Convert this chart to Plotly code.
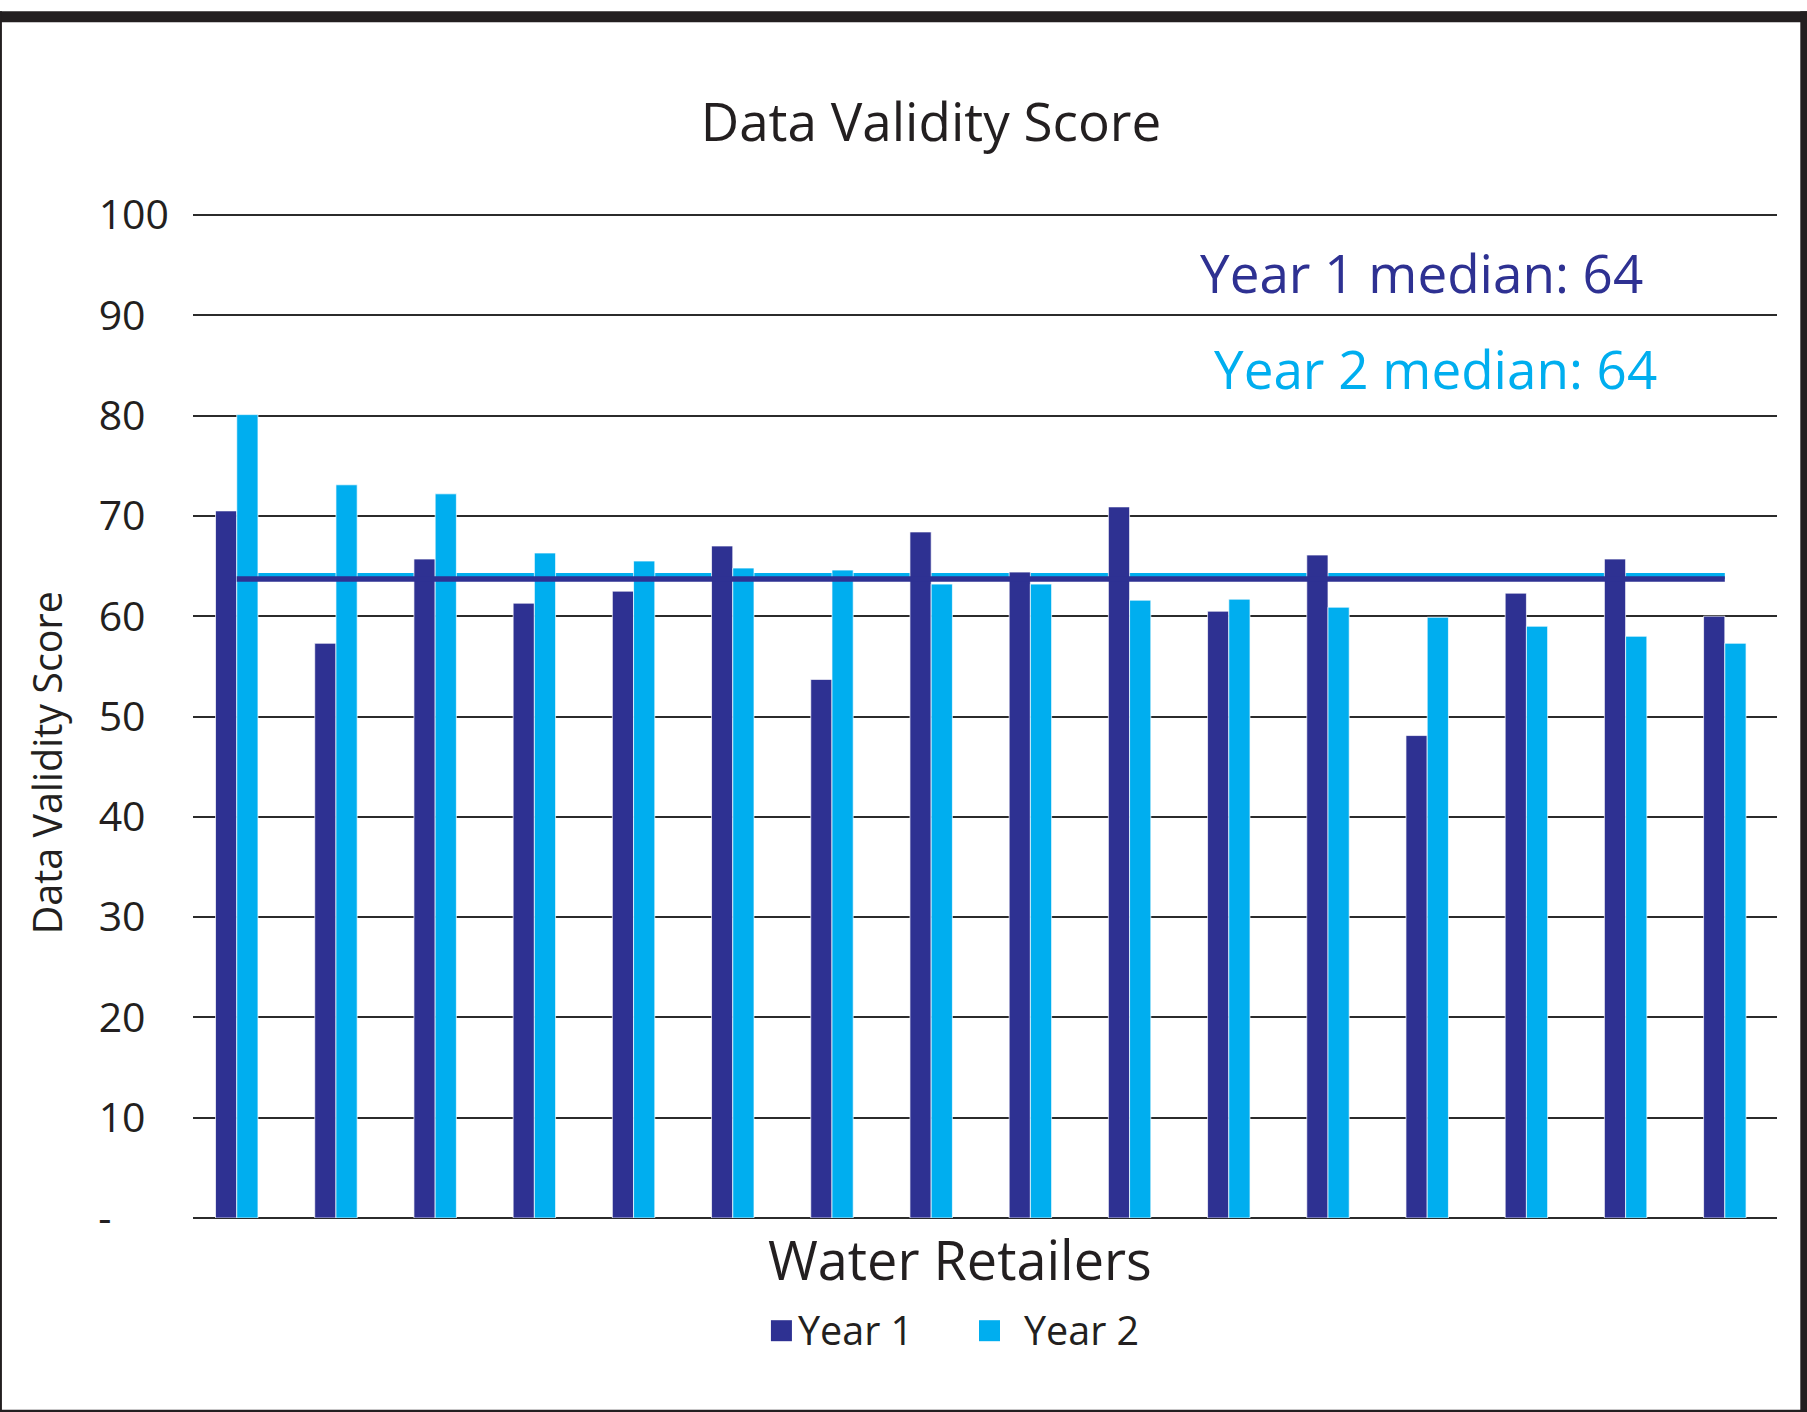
import plotly.graph_objects as go

# ---------------- data ----------------
retailers = [f"Retailer {i}" for i in range(1, 17)]
year1 = [70.5, 57.3, 65.7, 61.3, 62.5, 67.0, 53.7, 68.4, 64.4, 70.9, 60.5, 66.1, 48.1, 62.3, 65.7, 60.0]
year2 = [80.1, 73.1, 72.2, 66.3, 65.5, 64.8, 64.6, 63.2, 63.2, 61.6, 61.7, 60.9, 59.9, 59.0, 58.0, 57.3]
year1_median = 63.7
year2_median = 64.0
median_label = 64
y_tick_vals = [0, 10, 20, 30, 40, 50, 60, 70, 80, 90, 100]
FS = "\u2007"  # figure space (digit width) -> left-aligned look
y_tick_text = ["-" + FS + FS + "\u00a0", "10" + FS, "20" + FS, "30" + FS, "40" + FS, "50" + FS,
               "60" + FS, "70" + FS, "80" + FS, "90" + FS, "100"]

DARK = "#2E3192"
LIGHT = "#00AEEF"
INK = "#231F20"
FONT = "Open Sans"

W, H = 1807, 1412
L, R, T, B = 193.3, 30.3, 212.8, 194.2
PW, PH = W - L - R, H - T - B


def px(x):
    return (x - L) / PW


def py(y):
    return (H - B - y) / PH


fig = go.Figure()
fig.add_trace(go.Bar(x=retailers, y=year1, name="Year 1",
                     marker=dict(color=DARK, line=dict(color="rgba(255,255,255,0.7)", width=1))))
fig.add_trace(go.Bar(x=retailers, y=year2, name="Year 2",
                     marker=dict(color=LIGHT, line=dict(color="rgba(255,255,255,0.7)", width=1))))

shapes = [
    # median lines
    dict(type="line", xref="x", yref="y", x0=0, x1=len(retailers) - 1, y0=year2_median, y1=year2_median,
         line=dict(color=LIGHT, width=6), layer="below"),
    dict(type="line", xref="x", yref="y", x0=0, x1=len(retailers) - 1, y0=year1_median, y1=year1_median,
         line=dict(color=DARK, width=5.5), layer="above"),
    # frame
    dict(type="rect", xref="paper", yref="paper", x0=px(0), x1=px(W), y0=py(22), y1=py(11),
         fillcolor=INK, line=dict(width=0), layer="above"),
    dict(type="rect", xref="paper", yref="paper", x0=px(0), x1=px(2.3), y0=py(H), y1=py(11),
         fillcolor=INK, line=dict(width=0), layer="above"),
    dict(type="rect", xref="paper", yref="paper", x0=px(1800), x1=px(W), y0=py(H), y1=py(11),
         fillcolor=INK, line=dict(width=0), layer="above"),
    dict(type="rect", xref="paper", yref="paper", x0=px(0), x1=px(W), y0=py(1412), y1=py(1409.5),
         fillcolor=INK, line=dict(width=0), layer="above"),
    # legend swatches
    dict(type="rect", xref="paper", yref="paper", x0=px(771), x1=px(792), y0=py(1341), y1=py(1320),
         fillcolor=DARK, line=dict(width=0)),
    dict(type="rect", xref="paper", yref="paper", x0=px(979), x1=px(1000), y0=py(1341), y1=py(1320),
         fillcolor=LIGHT, line=dict(width=0)),
]

annotations = [
    dict(text=f"Year 1 median: {median_label}", xref="paper", yref="paper", x=px(1421.5), y=py(272),
         xanchor="center", yanchor="middle", showarrow=False, font=dict(family=FONT, size=53, color=DARK)),
    dict(text=f"Year 2 median: {median_label}", xref="paper", yref="paper", x=px(1435), y=py(368),
         xanchor="center", yanchor="middle", showarrow=False, font=dict(family=FONT, size=53, color=LIGHT)),
    dict(text="Water Retailers", xref="paper", yref="paper", x=px(960), y=py(1259),
         xanchor="center", yanchor="middle", showarrow=False, font=dict(family=FONT, size=54, color=INK)),
    dict(text="Data Validity Score", xref="paper", yref="paper", x=px(47.5), y=py(763), textangle=-90,
         xanchor="center", yanchor="middle", showarrow=False, font=dict(family=FONT, size=39.5, color=INK)),
    dict(text="Year 1", xref="paper", yref="paper", x=px(796), y=py(1330),
         xanchor="left", yanchor="middle", showarrow=False, font=dict(family=FONT, size=39.5, color=INK)),
    dict(text="Year 2", xref="paper", yref="paper", x=px(1022), y=py(1330),
         xanchor="left", yanchor="middle", showarrow=False, font=dict(family=FONT, size=39.5, color=INK)),
]

fig.update_layout(
    width=W, height=H,
    margin=dict(l=L, r=R, t=T, b=B, autoexpand=False),
    paper_bgcolor="white", plot_bgcolor="white",
    barmode="group", bargap=0.572, bargroupgap=0,
    showlegend=False,
    title=dict(text="Data Validity Score", x=px(931), xref="paper", xanchor="center",
               y=1 - 122 / H, yref="container", yanchor="middle",
               font=dict(family=FONT, size=53, color=INK)),
    font=dict(family=FONT, color=INK),
    shapes=shapes,
    annotations=annotations,
)

fig.update_xaxes(range=[-0.441, 15.526], showticklabels=False, showgrid=False, zeroline=False,
                 showline=False, ticks="", fixedrange=True)
fig.update_yaxes(range=[0, 100.2], tickmode="array", tickvals=y_tick_vals, ticktext=y_tick_text,
                 showgrid=True, gridcolor="#2b2b2b", gridwidth=1.5,
                 zeroline=True, zerolinecolor="#2b2b2b", zerolinewidth=2,
                 showline=False, ticks="", ticklabelstandoff=23,
                 tickfont=dict(family=FONT, size=41, color=INK), fixedrange=True)

fig.write_html("out.html", config={"displayModeBar": False},
               post_script="document.body.style.margin='0';document.body.style.overflow='hidden';")
